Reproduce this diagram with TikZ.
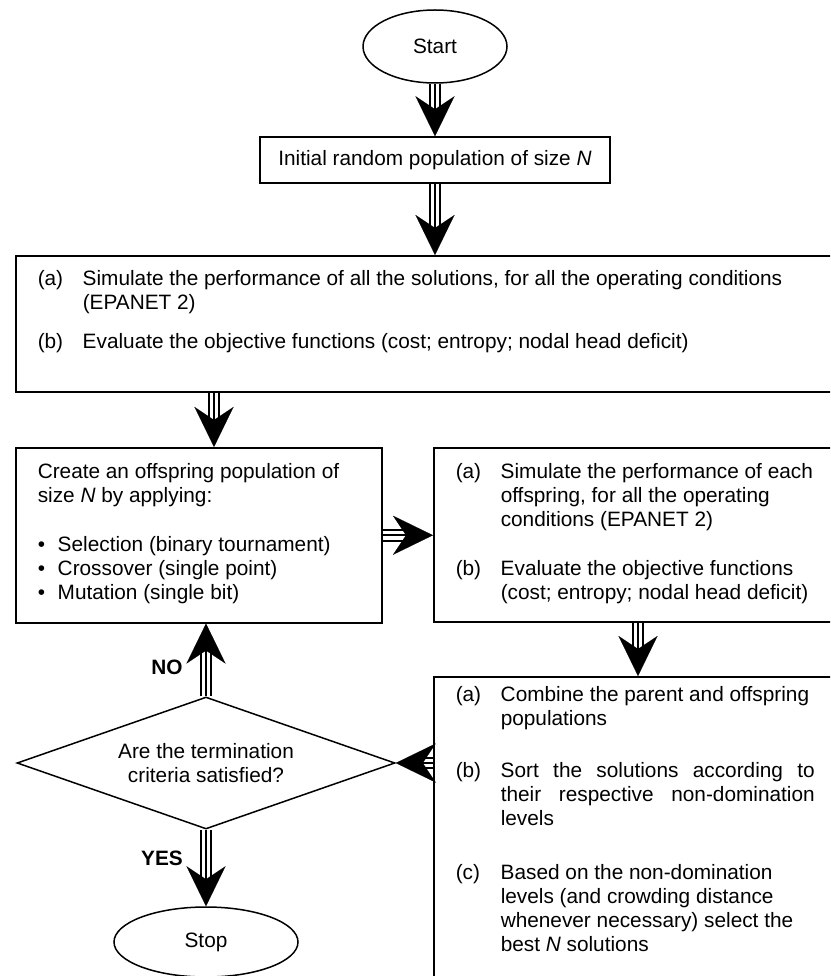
\documentclass[tikz,border=0pt]{standalone}
\usepackage{fontspec}
\setmainfont{Liberation Sans}
\usetikzlibrary{arrows.meta,shapes.geometric}
\newlength{\lblw}\setlength{\lblw}{45pt}
\newlength{\bulw}\setlength{\bulw}{20pt}
\newcommand{\itm}[2]{\par\noindent\hangindent=\lblw\hangafter=1\makebox[\lblw][l]{#1}#2\par}
\newcommand{\bul}[1]{\par\noindent\hangindent=\bulw\hangafter=1\makebox[\bulw][l]{•}#1\par}
\newcommand{\boxtext}[4]{\begin{minipage}[t][#2][t]{#1}\fontsize{20.8pt}{24pt}\selectfont\setlength{\parindent}{0pt}\leftskip=22pt\rightskip=#3\relax #4\end{minipage}}
\begin{document}
\begin{tikzpicture}[x=1pt,y=-1pt,
  every node/.style={font={\fontsize{20.8pt}{24pt}\selectfont}},
  box/.style={draw, line width=1.5pt, inner sep=0pt, anchor=north west},
  oval/.style={draw, ellipse, line width=1.5pt, inner sep=0pt},
  lab/.style={font={\fontsize{20.8pt}{24pt}\selectfont\bfseries}, inner sep=0pt},
  tri/.style={
    postaction={draw=black, line width=12.5pt, shorten >=24pt},
    postaction={draw=white, line width=8.5pt, shorten >=23pt},
    postaction={draw=black, line width=2.2pt, -{Stealth[length=40pt,width=39pt,inset=13pt,line width=0.1pt]}}}]
\useasboundingbox (0,0) rectangle (830,976);
\clip (0,0) rectangle (830,976);
\fill[white] (0,0) rectangle (830,976);

\node[oval, minimum width=144pt, minimum height=73pt] (start) at (435,46.5) {Start};
\node[draw, line width=1.5pt, minimum width=350pt, minimum height=46pt, inner sep=0pt] (init) at (435,160) {Initial random population of size \textit{N}};

\node[box] (sim) at (15,255) {\boxtext{900pt}{136pt}{0pt}{%
  \itm{\rule{0pt}{30pt}(a)}{Simulate the performance of all the solutions, for all the operating conditions\newline (EPANET 2)}%
  \vspace{15pt}%
  \itm{(b)}{Evaluate the objective functions (cost; entropy; nodal head deficit)}}};

\node[box] (off) at (15,447) {\boxtext{366pt}{175pt}{0pt}{%
  \noindent\rule{0pt}{31pt}Create an offspring population of\newline size \textit{N} by applying:\par
  \vspace{25pt}%
  \bul{Selection (binary tournament)}\bul{Crossover (single point)}\bul{Mutation (single bit)}}};

\node[box] (sim2) at (433,447) {\boxtext{450pt}{174pt}{60pt}{%
  \itm{\rule{0pt}{31pt}(a)}{Simulate the performance of each\newline offspring, for all the operating\newline conditions (EPANET 2)}%
  \vspace{25pt}%
  \itm{(b)}{Evaluate the objective functions\newline (cost; entropy; nodal head deficit)}}};

\node[box] (comb) at (433,676) {\boxtext{450pt}{400pt}{69pt}{%
  \itm{\rule{0pt}{25pt}(a)}{Combine the parent and offspring\newline populations}%
  \vspace{28pt}%
  \itm{(b)}{Sort the solutions according to\linebreak their respective non-domination\linebreak levels}%
  \vspace{30pt}%
  \itm{(c)}{Based on the non-domination\newline levels (and crowding distance\newline whenever necessary) select the\newline best \textit{N} solutions}}};

\node[draw, diamond, aspect=2.86, minimum width=378pt, minimum height=132pt, inner sep=0pt, line width=1.5pt, align=center] (crit) at (206,763) {Are the termination\\criteria satisfied?};

\node[oval, minimum width=184pt, minimum height=70pt] (stop) at (206,942) {Stop};

\coordinate (a23) at (214,0);
\coordinate (a45) at (638,0);

\path[tri] (start.south) -- (init.north);
\path[tri] (init.south) -- (init.south |- sim.north);
\path[tri] (sim.south -| a23) -- (off.north -| a23);
\path[tri] (off.east) -- (off.east -| sim2.west);
\path[tri] (sim2.south -| a45) -- (comb.north -| a45);
\path[tri] (comb.west |- crit.east) -- (crit.east);
\path[tri] (crit.north) -- (crit.north |- off.south);
\path[tri] (crit.south) -- (stop.north);

\node[lab] (no) at (167,667) {NO};
\node[lab, anchor=east] (yes) at (183,858) {YES};
\end{tikzpicture}
\end{document}
